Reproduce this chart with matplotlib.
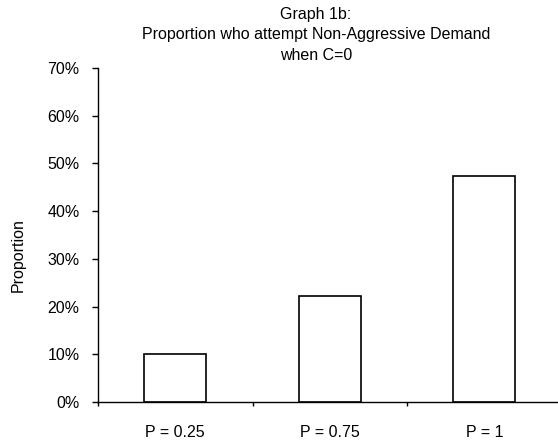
import matplotlib
matplotlib.use("Agg")
import matplotlib.pyplot as plt
from matplotlib.ticker import FuncFormatter, FixedLocator

plt.rcParams['font.family'] = ['Liberation Sans', 'DejaVu Sans']

categories = ["P = 0.25", "P = 0.75", "P = 1"]
proportions = [0.10, 0.223, 0.474]
y_ticks = [0.0, 0.1, 0.2, 0.3, 0.4, 0.5, 0.6, 0.7]
title_lines = ["Graph 1b:", "Proportion who attempt Non-Aggressive Demand", "when C=0"]

FS = 11.5
W, H = 558, 440
fig = plt.figure(figsize=(W / 100, H / 100), dpi=100)
left, right, bottom, top = 98, 561.5, 402, 68
ax = fig.add_axes([left / W, 1 - bottom / H, (right - left) / W, (bottom - top) / H])

x = range(len(categories))
ax.bar(x, proportions, width=0.4, color="white", edgecolor="black", linewidth=1.2, zorder=2)

ax.set_xlim(-0.5, len(categories) - 0.5)
ax.set_ylim(0, 0.7)

for s in ("top", "right"):
    ax.spines[s].set_visible(False)
for s in ("left", "bottom"):
    ax.spines[s].set_linewidth(1.0)
    ax.spines[s].set_color("black")

ax.set_yticks(y_ticks)
ax.yaxis.set_major_formatter(FuncFormatter(lambda v, _: f"{v * 100:.0f}%"))
ax.tick_params(axis="y", direction="out", length=4.3, width=1.0, pad=9, labelsize=FS)

ax.set_xticks(list(x))
ax.set_xticklabels(categories)
ax.xaxis.set_minor_locator(FixedLocator([i - 0.5 for i in range(len(categories) + 1)]))
ax.tick_params(axis="x", which="major", length=0, pad=16.5, labelsize=FS)
ax.tick_params(axis="x", which="minor", direction="out", length=3, width=1.0)

fig.text(18 / W, 1 - 255 / H, "Proportion", rotation=90, ha="center", va="center", fontsize=FS)

for i, line in enumerate(title_lines):
    fig.text(316 / W, 1 - (15 + 20 * i) / H, line, ha="center", va="center", fontsize=FS)

fig.savefig("out.png", dpi=100, facecolor="white")
